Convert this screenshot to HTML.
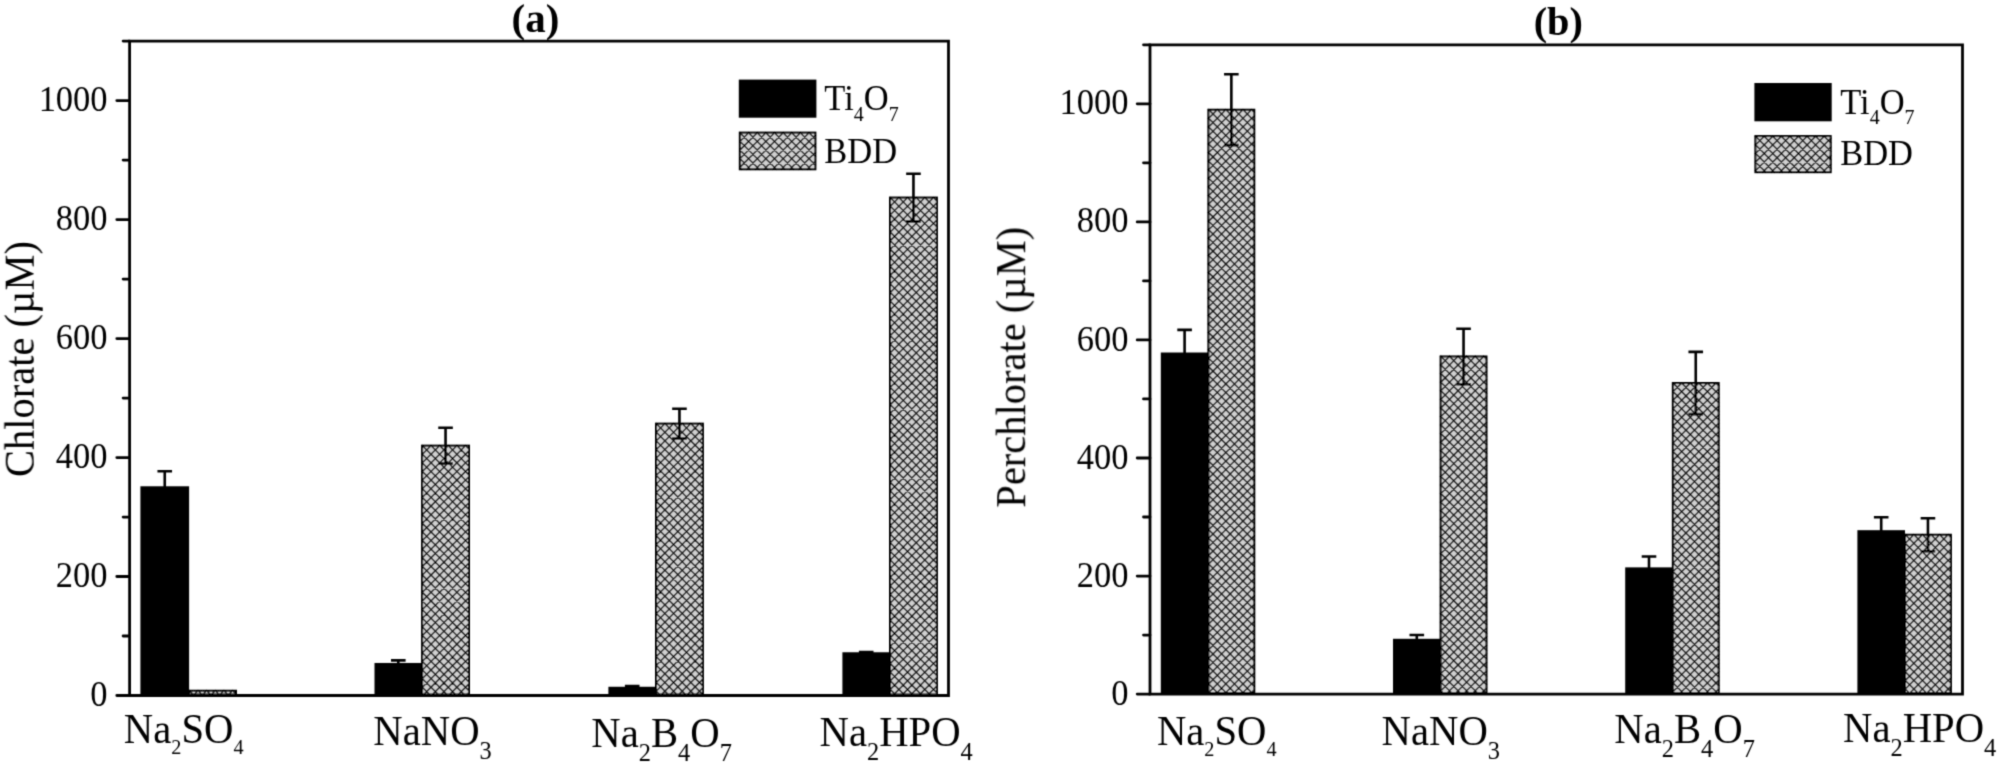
<!DOCTYPE html>
<html lang="en"><head><meta charset="utf-8"><title>Chlorate and perchlorate formation</title>
<style>html,body{margin:0;padding:0;background:#fff}svg{display:block}text{font-family:"Liberation Serif","Times New Roman",serif;fill:#000}</style></head><body>
<svg width="2000" height="766" viewBox="0 0 2000 766">
<rect width="2000" height="766" fill="#fff"/>
<defs><filter id="soft" x="0" y="0" width="2000" height="766" filterUnits="userSpaceOnUse"><feConvolveMatrix order="3" kernelMatrix="1 4 1 4 16 4 1 4 1" divisor="36" edgeMode="duplicate" preserveAlpha="false"/></filter></defs>
<g filter="url(#soft)">
<rect x="140.4" y="486.28" width="48.7" height="209.22" fill="#000"/>
<path d="M164.75,487.28V471.22M157.45,471.22H172.05" stroke="#000" stroke-width="2.6" fill="none"/>
<rect x="374.5" y="662.97" width="47.6" height="32.53" fill="#000"/>
<path d="M398.3,663.97V660.4M391,660.4H405.6" stroke="#000" stroke-width="2.6" fill="none"/>
<rect x="608.4" y="686.77" width="47.6" height="8.73" fill="#000"/>
<path d="M632.2,687.77V685.98M624.9,685.98H639.5" stroke="#000" stroke-width="2.6" fill="none"/>
<rect x="842.4" y="652.26" width="47.6" height="43.24" fill="#000"/>
<path d="M866.2,653.26V652.07M858.9,652.07H873.5" stroke="#000" stroke-width="2.6" fill="none"/>
<rect x="189.1" y="690.74" width="46.9" height="3.76" fill="#d0d0d0"/>
<path d="M232.15,690.34L236.4,694.59M223.52,690.34L228.08,694.9M214.89,690.34L219.45,694.9M206.26,690.34L210.82,694.9M197.63,690.34L202.19,694.9M189,690.34L193.56,694.9M188.7,691.41L189.77,690.34M193.84,694.9L198.4,690.34M202.47,694.9L207.03,690.34M211.1,694.9L215.66,690.34M219.73,694.9L224.29,690.34M228.36,694.9L232.92,690.34" stroke="#111" stroke-width="1.5" fill="none"/>
<rect x="189.1" y="690.74" width="46.9" height="3.76" fill="none" stroke="#000" stroke-width="2.0"/>
<rect x="422.1" y="445.64" width="46.9" height="248.86" fill="#d0d0d0"/>
<path d="M465.15,445.24L469.4,449.49M456.52,445.24L469.4,458.12M447.89,445.24L469.4,466.75M439.26,445.24L469.4,475.38M430.63,445.24L469.4,484.01M422,445.24L469.4,492.64M421.7,453.57L469.4,501.27M421.7,462.2L469.4,509.9M421.7,470.83L469.4,518.53M421.7,479.46L469.4,527.16M421.7,488.09L469.4,535.79M421.7,496.72L469.4,544.42M421.7,505.35L469.4,553.05M421.7,513.98L469.4,561.68M421.7,522.61L469.4,570.31M421.7,531.24L469.4,578.94M421.7,539.87L469.4,587.57M421.7,548.5L469.4,596.2M421.7,557.13L469.4,604.83M421.7,565.76L469.4,613.46M421.7,574.39L469.4,622.09M421.7,583.02L469.4,630.72M421.7,591.65L469.4,639.35M421.7,600.28L469.4,647.98M421.7,608.91L469.4,656.61M421.7,617.54L469.4,665.24M421.7,626.17L469.4,673.87M421.7,634.8L469.4,682.5M421.7,643.43L469.4,691.13M421.7,652.06L464.54,694.9M421.7,660.69L455.91,694.9M421.7,669.32L447.28,694.9M421.7,677.95L438.65,694.9M421.7,686.58L430.02,694.9M421.7,446.31L422.77,445.24M421.7,454.94L431.4,445.24M421.7,463.57L440.03,445.24M421.7,472.2L448.66,445.24M421.7,480.83L457.29,445.24M421.7,489.46L465.92,445.24M421.7,498.09L469.4,450.39M421.7,506.72L469.4,459.02M421.7,515.35L469.4,467.65M421.7,523.98L469.4,476.28M421.7,532.61L469.4,484.91M421.7,541.24L469.4,493.54M421.7,549.87L469.4,502.17M421.7,558.5L469.4,510.8M421.7,567.13L469.4,519.43M421.7,575.76L469.4,528.06M421.7,584.39L469.4,536.69M421.7,593.02L469.4,545.32M421.7,601.65L469.4,553.95M421.7,610.28L469.4,562.58M421.7,618.91L469.4,571.21M421.7,627.54L469.4,579.84M421.7,636.17L469.4,588.47M421.7,644.8L469.4,597.1M421.7,653.43L469.4,605.73M421.7,662.06L469.4,614.36M421.7,670.69L469.4,622.99M421.7,679.32L469.4,631.62M421.7,687.95L469.4,640.25M423.38,694.9L469.4,648.88M432.01,694.9L469.4,657.51M440.64,694.9L469.4,666.14M449.27,694.9L469.4,674.77M457.9,694.9L469.4,683.4M466.53,694.9L469.4,692.03" stroke="#111" stroke-width="1.5" fill="none"/>
<rect x="422.1" y="445.64" width="46.9" height="248.86" fill="none" stroke="#000" stroke-width="2.0"/>
<path d="M445.55,463.49V427.79M438.25,427.79H452.85M438.25,463.49H452.85" stroke="#000" stroke-width="2.6" fill="none"/>
<rect x="656" y="423.63" width="46.9" height="270.87" fill="#d0d0d0"/>
<path d="M699.05,423.23L703.3,427.48M690.42,423.23L703.3,436.11M681.79,423.23L703.3,444.74M673.16,423.23L703.3,453.37M664.53,423.23L703.3,462M655.9,423.23L703.3,470.63M655.6,431.56L703.3,479.26M655.6,440.19L703.3,487.89M655.6,448.82L703.3,496.52M655.6,457.45L703.3,505.15M655.6,466.08L703.3,513.78M655.6,474.71L703.3,522.41M655.6,483.34L703.3,531.04M655.6,491.97L703.3,539.67M655.6,500.6L703.3,548.3M655.6,509.23L703.3,556.93M655.6,517.86L703.3,565.56M655.6,526.49L703.3,574.19M655.6,535.12L703.3,582.82M655.6,543.75L703.3,591.45M655.6,552.38L703.3,600.08M655.6,561.01L703.3,608.71M655.6,569.64L703.3,617.34M655.6,578.27L703.3,625.97M655.6,586.9L703.3,634.6M655.6,595.53L703.3,643.23M655.6,604.16L703.3,651.86M655.6,612.79L703.3,660.49M655.6,621.42L703.3,669.12M655.6,630.05L703.3,677.75M655.6,638.68L703.3,686.38M655.6,647.31L703.19,694.9M655.6,655.94L694.56,694.9M655.6,664.57L685.93,694.9M655.6,673.2L677.3,694.9M655.6,681.83L668.67,694.9M655.6,690.46L660.04,694.9M655.6,424.3L656.67,423.23M655.6,432.93L665.3,423.23M655.6,441.56L673.93,423.23M655.6,450.19L682.56,423.23M655.6,458.82L691.19,423.23M655.6,467.45L699.82,423.23M655.6,476.08L703.3,428.38M655.6,484.71L703.3,437.01M655.6,493.34L703.3,445.64M655.6,501.97L703.3,454.27M655.6,510.6L703.3,462.9M655.6,519.23L703.3,471.53M655.6,527.86L703.3,480.16M655.6,536.49L703.3,488.79M655.6,545.12L703.3,497.42M655.6,553.75L703.3,506.05M655.6,562.38L703.3,514.68M655.6,571.01L703.3,523.31M655.6,579.64L703.3,531.94M655.6,588.27L703.3,540.57M655.6,596.9L703.3,549.2M655.6,605.53L703.3,557.83M655.6,614.16L703.3,566.46M655.6,622.79L703.3,575.09M655.6,631.42L703.3,583.72M655.6,640.05L703.3,592.35M655.6,648.68L703.3,600.98M655.6,657.31L703.3,609.61M655.6,665.94L703.3,618.24M655.6,674.57L703.3,626.87M655.6,683.2L703.3,635.5M655.6,691.83L703.3,644.13M661.16,694.9L703.3,652.76M669.79,694.9L703.3,661.39M678.42,694.9L703.3,670.02M687.05,694.9L703.3,678.65M695.68,694.9L703.3,687.28" stroke="#111" stroke-width="1.5" fill="none"/>
<rect x="656" y="423.63" width="46.9" height="270.87" fill="none" stroke="#000" stroke-width="2.0"/>
<path d="M679.45,438.5V408.75M672.15,408.75H686.75M672.15,438.5H686.75" stroke="#000" stroke-width="2.6" fill="none"/>
<rect x="890" y="197.56" width="46.9" height="496.94" fill="#d0d0d0"/>
<path d="M933.05,197.16L937.3,201.41M924.42,197.16L937.3,210.04M915.79,197.16L937.3,218.67M907.16,197.16L937.3,227.3M898.53,197.16L937.3,235.93M889.9,197.16L937.3,244.56M889.6,205.49L937.3,253.19M889.6,214.12L937.3,261.82M889.6,222.75L937.3,270.45M889.6,231.38L937.3,279.08M889.6,240.01L937.3,287.71M889.6,248.64L937.3,296.34M889.6,257.27L937.3,304.97M889.6,265.9L937.3,313.6M889.6,274.53L937.3,322.23M889.6,283.16L937.3,330.86M889.6,291.79L937.3,339.49M889.6,300.42L937.3,348.12M889.6,309.05L937.3,356.75M889.6,317.68L937.3,365.38M889.6,326.31L937.3,374.01M889.6,334.94L937.3,382.64M889.6,343.57L937.3,391.27M889.6,352.2L937.3,399.9M889.6,360.83L937.3,408.53M889.6,369.46L937.3,417.16M889.6,378.09L937.3,425.79M889.6,386.72L937.3,434.42M889.6,395.35L937.3,443.05M889.6,403.98L937.3,451.68M889.6,412.61L937.3,460.31M889.6,421.24L937.3,468.94M889.6,429.87L937.3,477.57M889.6,438.5L937.3,486.2M889.6,447.13L937.3,494.83M889.6,455.76L937.3,503.46M889.6,464.39L937.3,512.09M889.6,473.02L937.3,520.72M889.6,481.65L937.3,529.35M889.6,490.28L937.3,537.98M889.6,498.91L937.3,546.61M889.6,507.54L937.3,555.24M889.6,516.17L937.3,563.87M889.6,524.8L937.3,572.5M889.6,533.43L937.3,581.13M889.6,542.06L937.3,589.76M889.6,550.69L937.3,598.39M889.6,559.32L937.3,607.02M889.6,567.95L937.3,615.65M889.6,576.58L937.3,624.28M889.6,585.21L937.3,632.91M889.6,593.84L937.3,641.54M889.6,602.47L937.3,650.17M889.6,611.1L937.3,658.8M889.6,619.73L937.3,667.43M889.6,628.36L937.3,676.06M889.6,636.99L937.3,684.69M889.6,645.62L937.3,693.32M889.6,654.25L930.25,694.9M889.6,662.88L921.62,694.9M889.6,671.51L912.99,694.9M889.6,680.14L904.36,694.9M889.6,688.77L895.73,694.9M889.6,198.23L890.67,197.16M889.6,206.86L899.3,197.16M889.6,215.49L907.93,197.16M889.6,224.12L916.56,197.16M889.6,232.75L925.19,197.16M889.6,241.38L933.82,197.16M889.6,250.01L937.3,202.31M889.6,258.64L937.3,210.94M889.6,267.27L937.3,219.57M889.6,275.9L937.3,228.2M889.6,284.53L937.3,236.83M889.6,293.16L937.3,245.46M889.6,301.79L937.3,254.09M889.6,310.42L937.3,262.72M889.6,319.05L937.3,271.35M889.6,327.68L937.3,279.98M889.6,336.31L937.3,288.61M889.6,344.94L937.3,297.24M889.6,353.57L937.3,305.87M889.6,362.2L937.3,314.5M889.6,370.83L937.3,323.13M889.6,379.46L937.3,331.76M889.6,388.09L937.3,340.39M889.6,396.72L937.3,349.02M889.6,405.35L937.3,357.65M889.6,413.98L937.3,366.28M889.6,422.61L937.3,374.91M889.6,431.24L937.3,383.54M889.6,439.87L937.3,392.17M889.6,448.5L937.3,400.8M889.6,457.13L937.3,409.43M889.6,465.76L937.3,418.06M889.6,474.39L937.3,426.69M889.6,483.02L937.3,435.32M889.6,491.65L937.3,443.95M889.6,500.28L937.3,452.58M889.6,508.91L937.3,461.21M889.6,517.54L937.3,469.84M889.6,526.17L937.3,478.47M889.6,534.8L937.3,487.1M889.6,543.43L937.3,495.73M889.6,552.06L937.3,504.36M889.6,560.69L937.3,512.99M889.6,569.32L937.3,521.62M889.6,577.95L937.3,530.25M889.6,586.58L937.3,538.88M889.6,595.21L937.3,547.51M889.6,603.84L937.3,556.14M889.6,612.47L937.3,564.77M889.6,621.1L937.3,573.4M889.6,629.73L937.3,582.03M889.6,638.36L937.3,590.66M889.6,646.99L937.3,599.29M889.6,655.62L937.3,607.92M889.6,664.25L937.3,616.55M889.6,672.88L937.3,625.18M889.6,681.51L937.3,633.81M889.6,690.14L937.3,642.44M893.47,694.9L937.3,651.07M902.1,694.9L937.3,659.7M910.73,694.9L937.3,668.33M919.36,694.9L937.3,676.96M927.99,694.9L937.3,685.59" stroke="#111" stroke-width="1.5" fill="none"/>
<rect x="890" y="197.56" width="46.9" height="496.94" fill="none" stroke="#000" stroke-width="2.0"/>
<path d="M913.45,221.36V173.76M906.15,173.76H920.75M906.15,221.36H920.75" stroke="#000" stroke-width="2.6" fill="none"/>
<path d="M129.6,41.1H948.5V695.5H129.6Z" stroke="#000" stroke-width="2.8" fill="none" stroke-linejoin="miter"/>
<path d="M129.6,695.5h-12.8M129.6,636.01h-6.5M129.6,576.52h-12.8M129.6,517.03h-6.5M129.6,457.54h-12.8M129.6,398.05h-6.5M129.6,338.55h-12.8M129.6,279.06h-6.5M129.6,219.57h-12.8M129.6,160.08h-6.5M129.6,100.59h-12.8M129.6,41.1h-6.5" stroke="#000" stroke-width="2.8" fill="none" stroke-linecap="round"/>
<text transform="translate(107.6,706.1) scale(1,1.035)" font-size="34.5" text-anchor="end">0</text>
<text transform="translate(107.6,587.12) scale(1,1.035)" font-size="34.5" text-anchor="end">200</text>
<text transform="translate(107.6,468.14) scale(1,1.035)" font-size="34.5" text-anchor="end">400</text>
<text transform="translate(107.6,349.15) scale(1,1.035)" font-size="34.5" text-anchor="end">600</text>
<text transform="translate(107.6,230.17) scale(1,1.035)" font-size="34.5" text-anchor="end">800</text>
<text transform="translate(107.6,111.19) scale(1,1.035)" font-size="34.5" text-anchor="end">1000</text>
<text x="535.5" y="32" font-size="41" font-weight="bold" text-anchor="middle">(a)</text>
<text transform="translate(34,359) rotate(-90) scale(1,1.035)" font-size="40.5" text-anchor="middle">Chlorate (µM)</text>
<text transform="translate(123.8,743.1) scale(1,1.035)" font-size="40.7">Na<tspan dy="10.9" font-size="20.3">2</tspan><tspan dy="-10.9" font-size="40.7">SO</tspan><tspan dy="10.9" font-size="20.3">4</tspan></text>
<text transform="translate(373.3,744.8) scale(1,1.035)" font-size="40.7">NaNO<tspan dy="13.3" font-size="24.4">3</tspan></text>
<text transform="translate(591.3,747) scale(1,1.035)" font-size="40.7">Na<tspan dy="13.3" font-size="24.4">2</tspan><tspan dy="-13.3" font-size="40.7">B</tspan><tspan dy="13.3" font-size="24.4">4</tspan><tspan dy="-13.3" font-size="40.7">O</tspan><tspan dy="13.3" font-size="24.4">7</tspan></text>
<text transform="translate(819.5,745.8) scale(1,1.035)" font-size="40.7">Na<tspan dy="13.3" font-size="24.4">2</tspan><tspan dy="-13.3" font-size="40.7">HPO</tspan><tspan dy="13.3" font-size="24.4">4</tspan></text>
<rect x="738.8" y="79.6" width="77.6" height="38.1" fill="#000"/>
<rect x="739.8" y="132.6" width="75.6" height="36.7" fill="#d0d0d0"/>
<path d="M808.44,132.2L815.8,139.56M799.81,132.2L815.8,148.19M791.18,132.2L815.8,156.82M782.55,132.2L815.8,165.45M773.92,132.2L811.42,169.7M765.29,132.2L802.79,169.7M756.66,132.2L794.16,169.7M748.03,132.2L785.53,169.7M739.4,132.2L776.9,169.7M739.4,140.83L768.27,169.7M739.4,149.46L759.64,169.7M739.4,158.09L751.01,169.7M739.4,166.72L742.38,169.7M739.4,133.37L740.57,132.2M739.4,142L749.2,132.2M739.4,150.63L757.83,132.2M739.4,159.26L766.46,132.2M739.4,167.89L775.09,132.2M746.22,169.7L783.72,132.2M754.85,169.7L792.35,132.2M763.48,169.7L800.98,132.2M772.11,169.7L809.61,132.2M780.74,169.7L815.8,134.64M789.37,169.7L815.8,143.27M798,169.7L815.8,151.9M806.63,169.7L815.8,160.53" stroke="#111" stroke-width="1.5" fill="none"/>
<rect x="739.8" y="132.6" width="75.6" height="36.7" fill="none" stroke="#000" stroke-width="2.0"/>
<text transform="translate(824.3,110.4) scale(1,1.035)" font-size="34.5">Ti<tspan dy="9.8" font-size="20">4</tspan><tspan dy="-9.8" font-size="34.5">O</tspan><tspan dy="9.8" font-size="20">7</tspan></text>
<text transform="translate(824.3,162.6) scale(1,1.035)" font-size="34.5">BDD</text>
<rect x="1160.8" y="352.51" width="47.6" height="341.59" fill="#000"/>
<path d="M1184.6,353.51V329.9M1177.3,329.9H1191.9" stroke="#000" stroke-width="2.6" fill="none"/>
<rect x="1393" y="638.79" width="47.6" height="55.31" fill="#000"/>
<path d="M1416.8,639.79V635.07M1409.5,635.07H1424.1" stroke="#000" stroke-width="2.6" fill="none"/>
<rect x="1625.2" y="567.37" width="47.6" height="126.73" fill="#000"/>
<path d="M1649,568.37V556.57M1641.7,556.57H1656.3" stroke="#000" stroke-width="2.6" fill="none"/>
<rect x="1857.4" y="530.18" width="47.6" height="163.92" fill="#000"/>
<path d="M1881.2,531.18V517.31M1873.9,517.31H1888.5" stroke="#000" stroke-width="2.6" fill="none"/>
<rect x="1208.4" y="109.73" width="45.9" height="583.37" fill="#d0d0d0"/>
<path d="M1251.15,109.33L1254.7,112.88M1242.58,109.33L1254.7,121.45M1234.01,109.33L1254.7,130.02M1225.44,109.33L1254.7,138.59M1216.87,109.33L1254.7,147.16M1208.3,109.33L1254.7,155.73M1208,117.6L1254.7,164.3M1208,126.17L1254.7,172.87M1208,134.74L1254.7,181.44M1208,143.31L1254.7,190.01M1208,151.88L1254.7,198.58M1208,160.45L1254.7,207.15M1208,169.02L1254.7,215.72M1208,177.59L1254.7,224.29M1208,186.16L1254.7,232.86M1208,194.73L1254.7,241.43M1208,203.3L1254.7,250M1208,211.87L1254.7,258.57M1208,220.44L1254.7,267.14M1208,229.01L1254.7,275.71M1208,237.58L1254.7,284.28M1208,246.15L1254.7,292.85M1208,254.72L1254.7,301.42M1208,263.29L1254.7,309.99M1208,271.86L1254.7,318.56M1208,280.43L1254.7,327.13M1208,289L1254.7,335.7M1208,297.57L1254.7,344.27M1208,306.14L1254.7,352.84M1208,314.71L1254.7,361.41M1208,323.28L1254.7,369.98M1208,331.85L1254.7,378.55M1208,340.42L1254.7,387.12M1208,348.99L1254.7,395.69M1208,357.56L1254.7,404.26M1208,366.13L1254.7,412.83M1208,374.7L1254.7,421.4M1208,383.27L1254.7,429.97M1208,391.84L1254.7,438.54M1208,400.41L1254.7,447.11M1208,408.98L1254.7,455.68M1208,417.55L1254.7,464.25M1208,426.12L1254.7,472.82M1208,434.69L1254.7,481.39M1208,443.26L1254.7,489.96M1208,451.83L1254.7,498.53M1208,460.4L1254.7,507.1M1208,468.97L1254.7,515.67M1208,477.54L1254.7,524.24M1208,486.11L1254.7,532.81M1208,494.68L1254.7,541.38M1208,503.25L1254.7,549.95M1208,511.82L1254.7,558.52M1208,520.39L1254.7,567.09M1208,528.96L1254.7,575.66M1208,537.53L1254.7,584.23M1208,546.1L1254.7,592.8M1208,554.67L1254.7,601.37M1208,563.24L1254.7,609.94M1208,571.81L1254.7,618.51M1208,580.38L1254.7,627.08M1208,588.95L1254.7,635.65M1208,597.52L1254.7,644.22M1208,606.09L1254.7,652.79M1208,614.66L1254.7,661.36M1208,623.23L1254.7,669.93M1208,631.8L1254.7,678.5M1208,640.37L1254.7,687.07M1208,648.94L1252.56,693.5M1208,657.51L1243.99,693.5M1208,666.08L1235.42,693.5M1208,674.65L1226.85,693.5M1208,683.22L1218.28,693.5M1208,691.79L1209.71,693.5M1208,110.46L1209.13,109.33M1208,119.03L1217.7,109.33M1208,127.6L1226.27,109.33M1208,136.17L1234.84,109.33M1208,144.74L1243.41,109.33M1208,153.31L1251.98,109.33M1208,161.88L1254.7,115.18M1208,170.45L1254.7,123.75M1208,179.02L1254.7,132.32M1208,187.59L1254.7,140.89M1208,196.16L1254.7,149.46M1208,204.73L1254.7,158.03M1208,213.3L1254.7,166.6M1208,221.87L1254.7,175.17M1208,230.44L1254.7,183.74M1208,239.01L1254.7,192.31M1208,247.58L1254.7,200.88M1208,256.15L1254.7,209.45M1208,264.72L1254.7,218.02M1208,273.29L1254.7,226.59M1208,281.86L1254.7,235.16M1208,290.43L1254.7,243.73M1208,299L1254.7,252.3M1208,307.57L1254.7,260.87M1208,316.14L1254.7,269.44M1208,324.71L1254.7,278.01M1208,333.28L1254.7,286.58M1208,341.85L1254.7,295.15M1208,350.42L1254.7,303.72M1208,358.99L1254.7,312.29M1208,367.56L1254.7,320.86M1208,376.13L1254.7,329.43M1208,384.7L1254.7,338M1208,393.27L1254.7,346.57M1208,401.84L1254.7,355.14M1208,410.41L1254.7,363.71M1208,418.98L1254.7,372.28M1208,427.55L1254.7,380.85M1208,436.12L1254.7,389.42M1208,444.69L1254.7,397.99M1208,453.26L1254.7,406.56M1208,461.83L1254.7,415.13M1208,470.4L1254.7,423.7M1208,478.97L1254.7,432.27M1208,487.54L1254.7,440.84M1208,496.11L1254.7,449.41M1208,504.68L1254.7,457.98M1208,513.25L1254.7,466.55M1208,521.82L1254.7,475.12M1208,530.39L1254.7,483.69M1208,538.96L1254.7,492.26M1208,547.53L1254.7,500.83M1208,556.1L1254.7,509.4M1208,564.67L1254.7,517.97M1208,573.24L1254.7,526.54M1208,581.81L1254.7,535.11M1208,590.38L1254.7,543.68M1208,598.95L1254.7,552.25M1208,607.52L1254.7,560.82M1208,616.09L1254.7,569.39M1208,624.66L1254.7,577.96M1208,633.23L1254.7,586.53M1208,641.8L1254.7,595.1M1208,650.37L1254.7,603.67M1208,658.94L1254.7,612.24M1208,667.51L1254.7,620.81M1208,676.08L1254.7,629.38M1208,684.65L1254.7,637.95M1208,693.22L1254.7,646.52M1216.29,693.5L1254.7,655.09M1224.86,693.5L1254.7,663.66M1233.43,693.5L1254.7,672.23M1242,693.5L1254.7,680.8M1250.57,693.5L1254.7,689.37" stroke="#111" stroke-width="1.5" fill="none"/>
<rect x="1208.4" y="109.73" width="45.9" height="583.37" fill="none" stroke="#000" stroke-width="2.0"/>
<path d="M1231.35,145.15V74.31M1224.05,74.31H1238.65M1224.05,145.15H1238.65" stroke="#000" stroke-width="2.6" fill="none"/>
<rect x="1440.6" y="356.46" width="45.9" height="336.64" fill="#d0d0d0"/>
<path d="M1483.35,356.06L1486.9,359.61M1474.78,356.06L1486.9,368.18M1466.21,356.06L1486.9,376.75M1457.64,356.06L1486.9,385.32M1449.07,356.06L1486.9,393.89M1440.5,356.06L1486.9,402.46M1440.2,364.33L1486.9,411.03M1440.2,372.9L1486.9,419.6M1440.2,381.47L1486.9,428.17M1440.2,390.04L1486.9,436.74M1440.2,398.61L1486.9,445.31M1440.2,407.18L1486.9,453.88M1440.2,415.75L1486.9,462.45M1440.2,424.32L1486.9,471.02M1440.2,432.89L1486.9,479.59M1440.2,441.46L1486.9,488.16M1440.2,450.03L1486.9,496.73M1440.2,458.6L1486.9,505.3M1440.2,467.17L1486.9,513.87M1440.2,475.74L1486.9,522.44M1440.2,484.31L1486.9,531.01M1440.2,492.88L1486.9,539.58M1440.2,501.45L1486.9,548.15M1440.2,510.02L1486.9,556.72M1440.2,518.59L1486.9,565.29M1440.2,527.16L1486.9,573.86M1440.2,535.73L1486.9,582.43M1440.2,544.3L1486.9,591M1440.2,552.87L1486.9,599.57M1440.2,561.44L1486.9,608.14M1440.2,570.01L1486.9,616.71M1440.2,578.58L1486.9,625.28M1440.2,587.15L1486.9,633.85M1440.2,595.72L1486.9,642.42M1440.2,604.29L1486.9,650.99M1440.2,612.86L1486.9,659.56M1440.2,621.43L1486.9,668.13M1440.2,630L1486.9,676.7M1440.2,638.57L1486.9,685.27M1440.2,647.14L1486.56,693.5M1440.2,655.71L1477.99,693.5M1440.2,664.28L1469.42,693.5M1440.2,672.85L1460.85,693.5M1440.2,681.42L1452.28,693.5M1440.2,689.99L1443.71,693.5M1440.2,357.19L1441.33,356.06M1440.2,365.76L1449.9,356.06M1440.2,374.33L1458.47,356.06M1440.2,382.9L1467.04,356.06M1440.2,391.47L1475.61,356.06M1440.2,400.04L1484.18,356.06M1440.2,408.61L1486.9,361.91M1440.2,417.18L1486.9,370.48M1440.2,425.75L1486.9,379.05M1440.2,434.32L1486.9,387.62M1440.2,442.89L1486.9,396.19M1440.2,451.46L1486.9,404.76M1440.2,460.03L1486.9,413.33M1440.2,468.6L1486.9,421.9M1440.2,477.17L1486.9,430.47M1440.2,485.74L1486.9,439.04M1440.2,494.31L1486.9,447.61M1440.2,502.88L1486.9,456.18M1440.2,511.45L1486.9,464.75M1440.2,520.02L1486.9,473.32M1440.2,528.59L1486.9,481.89M1440.2,537.16L1486.9,490.46M1440.2,545.73L1486.9,499.03M1440.2,554.3L1486.9,507.6M1440.2,562.87L1486.9,516.17M1440.2,571.44L1486.9,524.74M1440.2,580.01L1486.9,533.31M1440.2,588.58L1486.9,541.88M1440.2,597.15L1486.9,550.45M1440.2,605.72L1486.9,559.02M1440.2,614.29L1486.9,567.59M1440.2,622.86L1486.9,576.16M1440.2,631.43L1486.9,584.73M1440.2,640L1486.9,593.3M1440.2,648.57L1486.9,601.87M1440.2,657.14L1486.9,610.44M1440.2,665.71L1486.9,619.01M1440.2,674.28L1486.9,627.58M1440.2,682.85L1486.9,636.15M1440.2,691.42L1486.9,644.72M1446.69,693.5L1486.9,653.29M1455.26,693.5L1486.9,661.86M1463.83,693.5L1486.9,670.43M1472.4,693.5L1486.9,679M1480.97,693.5L1486.9,687.57" stroke="#111" stroke-width="1.5" fill="none"/>
<rect x="1440.6" y="356.46" width="45.9" height="336.64" fill="none" stroke="#000" stroke-width="2.0"/>
<path d="M1463.55,384.21V328.72M1456.25,328.72H1470.85M1456.25,384.21H1470.85" stroke="#000" stroke-width="2.6" fill="none"/>
<rect x="1672.8" y="383.03" width="45.9" height="310.07" fill="#d0d0d0"/>
<path d="M1715.55,382.63L1719.1,386.18M1706.98,382.63L1719.1,394.75M1698.41,382.63L1719.1,403.32M1689.84,382.63L1719.1,411.89M1681.27,382.63L1719.1,420.46M1672.7,382.63L1719.1,429.03M1672.4,390.9L1719.1,437.6M1672.4,399.47L1719.1,446.17M1672.4,408.04L1719.1,454.74M1672.4,416.61L1719.1,463.31M1672.4,425.18L1719.1,471.88M1672.4,433.75L1719.1,480.45M1672.4,442.32L1719.1,489.02M1672.4,450.89L1719.1,497.59M1672.4,459.46L1719.1,506.16M1672.4,468.03L1719.1,514.73M1672.4,476.6L1719.1,523.3M1672.4,485.17L1719.1,531.87M1672.4,493.74L1719.1,540.44M1672.4,502.31L1719.1,549.01M1672.4,510.88L1719.1,557.58M1672.4,519.45L1719.1,566.15M1672.4,528.02L1719.1,574.72M1672.4,536.59L1719.1,583.29M1672.4,545.16L1719.1,591.86M1672.4,553.73L1719.1,600.43M1672.4,562.3L1719.1,609M1672.4,570.87L1719.1,617.57M1672.4,579.44L1719.1,626.14M1672.4,588.01L1719.1,634.71M1672.4,596.58L1719.1,643.28M1672.4,605.15L1719.1,651.85M1672.4,613.72L1719.1,660.42M1672.4,622.29L1719.1,668.99M1672.4,630.86L1719.1,677.56M1672.4,639.43L1719.1,686.13M1672.4,648L1717.9,693.5M1672.4,656.57L1709.33,693.5M1672.4,665.14L1700.76,693.5M1672.4,673.71L1692.19,693.5M1672.4,682.28L1683.62,693.5M1672.4,690.85L1675.05,693.5M1672.4,383.76L1673.53,382.63M1672.4,392.33L1682.1,382.63M1672.4,400.9L1690.67,382.63M1672.4,409.47L1699.24,382.63M1672.4,418.04L1707.81,382.63M1672.4,426.61L1716.38,382.63M1672.4,435.18L1719.1,388.48M1672.4,443.75L1719.1,397.05M1672.4,452.32L1719.1,405.62M1672.4,460.89L1719.1,414.19M1672.4,469.46L1719.1,422.76M1672.4,478.03L1719.1,431.33M1672.4,486.6L1719.1,439.9M1672.4,495.17L1719.1,448.47M1672.4,503.74L1719.1,457.04M1672.4,512.31L1719.1,465.61M1672.4,520.88L1719.1,474.18M1672.4,529.45L1719.1,482.75M1672.4,538.02L1719.1,491.32M1672.4,546.59L1719.1,499.89M1672.4,555.16L1719.1,508.46M1672.4,563.73L1719.1,517.03M1672.4,572.3L1719.1,525.6M1672.4,580.87L1719.1,534.17M1672.4,589.44L1719.1,542.74M1672.4,598.01L1719.1,551.31M1672.4,606.58L1719.1,559.88M1672.4,615.15L1719.1,568.45M1672.4,623.72L1719.1,577.02M1672.4,632.29L1719.1,585.59M1672.4,640.86L1719.1,594.16M1672.4,649.43L1719.1,602.73M1672.4,658L1719.1,611.3M1672.4,666.57L1719.1,619.87M1672.4,675.14L1719.1,628.44M1672.4,683.71L1719.1,637.01M1672.4,692.28L1719.1,645.58M1679.75,693.5L1719.1,654.15M1688.32,693.5L1719.1,662.72M1696.89,693.5L1719.1,671.29M1705.46,693.5L1719.1,679.86M1714.03,693.5L1719.1,688.43" stroke="#111" stroke-width="1.5" fill="none"/>
<rect x="1672.8" y="383.03" width="45.9" height="310.07" fill="none" stroke="#000" stroke-width="2.0"/>
<path d="M1695.75,414.13V351.92M1688.45,351.92H1703.05M1688.45,414.13H1703.05" stroke="#000" stroke-width="2.6" fill="none"/>
<rect x="1905" y="534.73" width="45.9" height="158.37" fill="#d0d0d0"/>
<path d="M1947.75,534.33L1951.3,537.88M1939.18,534.33L1951.3,546.45M1930.61,534.33L1951.3,555.02M1922.04,534.33L1951.3,563.59M1913.47,534.33L1951.3,572.16M1904.9,534.33L1951.3,580.73M1904.6,542.6L1951.3,589.3M1904.6,551.17L1951.3,597.87M1904.6,559.74L1951.3,606.44M1904.6,568.31L1951.3,615.01M1904.6,576.88L1951.3,623.58M1904.6,585.45L1951.3,632.15M1904.6,594.02L1951.3,640.72M1904.6,602.59L1951.3,649.29M1904.6,611.16L1951.3,657.86M1904.6,619.73L1951.3,666.43M1904.6,628.3L1951.3,675M1904.6,636.87L1951.3,683.57M1904.6,645.44L1951.3,692.14M1904.6,654.01L1944.09,693.5M1904.6,662.58L1935.52,693.5M1904.6,671.15L1926.95,693.5M1904.6,679.72L1918.38,693.5M1904.6,688.29L1909.81,693.5M1904.6,535.46L1905.73,534.33M1904.6,544.03L1914.3,534.33M1904.6,552.6L1922.87,534.33M1904.6,561.17L1931.44,534.33M1904.6,569.74L1940.01,534.33M1904.6,578.31L1948.58,534.33M1904.6,586.88L1951.3,540.18M1904.6,595.45L1951.3,548.75M1904.6,604.02L1951.3,557.32M1904.6,612.59L1951.3,565.89M1904.6,621.16L1951.3,574.46M1904.6,629.73L1951.3,583.03M1904.6,638.3L1951.3,591.6M1904.6,646.87L1951.3,600.17M1904.6,655.44L1951.3,608.74M1904.6,664.01L1951.3,617.31M1904.6,672.58L1951.3,625.88M1904.6,681.15L1951.3,634.45M1904.6,689.72L1951.3,643.02M1909.39,693.5L1951.3,651.59M1917.96,693.5L1951.3,660.16M1926.53,693.5L1951.3,668.73M1935.1,693.5L1951.3,677.3M1943.67,693.5L1951.3,685.87" stroke="#111" stroke-width="1.5" fill="none"/>
<rect x="1905" y="534.73" width="45.9" height="158.37" fill="none" stroke="#000" stroke-width="2.0"/>
<path d="M1927.95,551.25V518.2M1920.65,518.2H1935.25M1920.65,551.25H1935.25" stroke="#000" stroke-width="2.6" fill="none"/>
<path d="M1150,44.8H1962.5V694.1H1150Z" stroke="#000" stroke-width="2.8" fill="none" stroke-linejoin="miter"/>
<path d="M1150,694.1h-12.8M1150,635.07h-6.5M1150,576.05h-12.8M1150,517.02h-6.5M1150,457.99h-12.8M1150,398.96h-6.5M1150,339.94h-12.8M1150,280.91h-6.5M1150,221.88h-12.8M1150,162.85h-6.5M1150,103.83h-12.8M1150,44.8h-6.5" stroke="#000" stroke-width="2.8" fill="none" stroke-linecap="round"/>
<text transform="translate(1128.4,704.7) scale(1,1.035)" font-size="34.5" text-anchor="end">0</text>
<text transform="translate(1128.4,586.65) scale(1,1.035)" font-size="34.5" text-anchor="end">200</text>
<text transform="translate(1128.4,468.59) scale(1,1.035)" font-size="34.5" text-anchor="end">400</text>
<text transform="translate(1128.4,350.54) scale(1,1.035)" font-size="34.5" text-anchor="end">600</text>
<text transform="translate(1128.4,232.48) scale(1,1.035)" font-size="34.5" text-anchor="end">800</text>
<text transform="translate(1128.4,114.43) scale(1,1.035)" font-size="34.5" text-anchor="end">1000</text>
<text x="1558.3" y="34.8" font-size="40.3" font-weight="bold" text-anchor="middle">(b)</text>
<text transform="translate(1025.5,367.3) rotate(-90) scale(1,1.035)" font-size="40.5" text-anchor="middle">Perchlorate (µM)</text>
<text transform="translate(1156.9,745.2) scale(1,1.035)" font-size="40.7">Na<tspan dy="10.9" font-size="20.3">2</tspan><tspan dy="-10.9" font-size="40.7">SO</tspan><tspan dy="10.9" font-size="20.3">4</tspan></text>
<text transform="translate(1381.6,744.8) scale(1,1.035)" font-size="40.7">NaNO<tspan dy="13.3" font-size="24.4">3</tspan></text>
<text transform="translate(1614.3,742.8) scale(1,1.035)" font-size="40.7">Na<tspan dy="13.3" font-size="24.4">2</tspan><tspan dy="-13.3" font-size="40.7">B</tspan><tspan dy="13.3" font-size="24.4">4</tspan><tspan dy="-13.3" font-size="40.7">O</tspan><tspan dy="13.3" font-size="24.4">7</tspan></text>
<text transform="translate(1843,742.2) scale(1,1.035)" font-size="40.7">Na<tspan dy="13.3" font-size="24.4">2</tspan><tspan dy="-13.3" font-size="40.7">HPO</tspan><tspan dy="13.3" font-size="24.4">4</tspan></text>
<rect x="1754.4" y="83" width="77.3" height="38.3" fill="#000"/>
<rect x="1755.4" y="136.1" width="75.3" height="36.1" fill="#d0d0d0"/>
<path d="M1823.56,135.7L1831.1,143.24M1814.99,135.7L1831.1,151.81M1806.42,135.7L1831.1,160.38M1797.85,135.7L1831.1,168.95M1789.28,135.7L1826.18,172.6M1780.71,135.7L1817.61,172.6M1772.14,135.7L1809.04,172.6M1763.57,135.7L1800.47,172.6M1755,135.7L1791.9,172.6M1755,144.27L1783.33,172.6M1755,152.84L1774.76,172.6M1755,161.41L1766.19,172.6M1755,169.98L1757.62,172.6M1755,136.93L1756.23,135.7M1755,145.5L1764.8,135.7M1755,154.07L1773.37,135.7M1755,162.64L1781.94,135.7M1755,171.21L1790.51,135.7M1762.18,172.6L1799.08,135.7M1770.75,172.6L1807.65,135.7M1779.32,172.6L1816.22,135.7M1787.89,172.6L1824.79,135.7M1796.46,172.6L1831.1,137.96M1805.03,172.6L1831.1,146.53M1813.6,172.6L1831.1,155.1M1822.17,172.6L1831.1,163.67" stroke="#111" stroke-width="1.5" fill="none"/>
<rect x="1755.4" y="136.1" width="75.3" height="36.1" fill="none" stroke="#000" stroke-width="2.0"/>
<text transform="translate(1840.2,113.6) scale(1,1.035)" font-size="34.5">Ti<tspan dy="9.8" font-size="20">4</tspan><tspan dy="-9.8" font-size="34.5">O</tspan><tspan dy="9.8" font-size="20">7</tspan></text>
<text transform="translate(1840.2,165.3) scale(1,1.035)" font-size="34.5">BDD</text>
</g></svg></body></html>
